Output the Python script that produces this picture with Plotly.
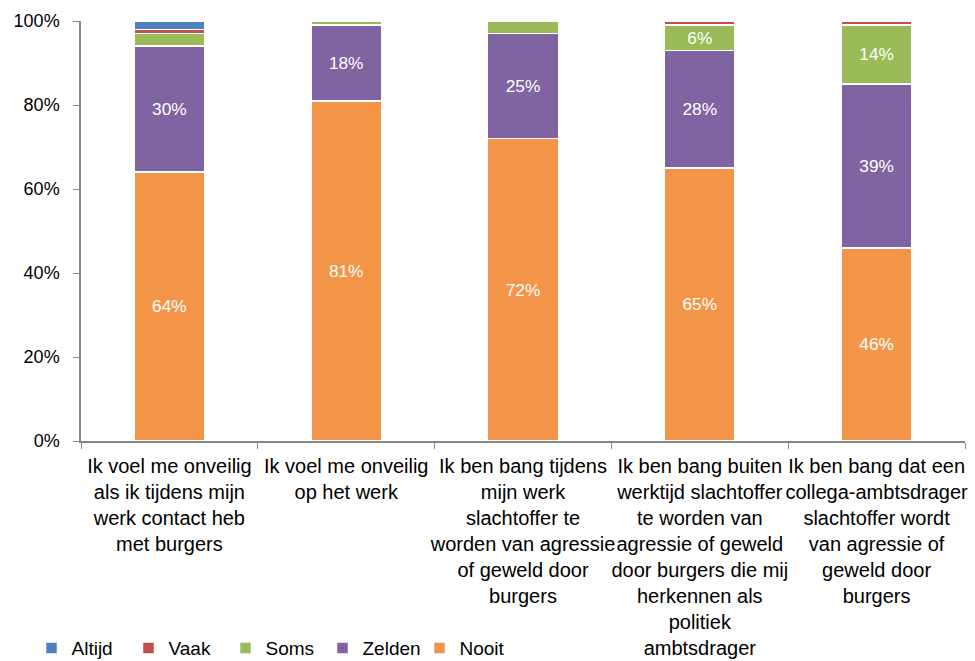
import plotly.graph_objects as go

categories = [
    "Ik voel me onveilig<br>als ik tijdens mijn<br>werk contact heb<br>met burgers",
    "Ik voel me onveilig<br>op het werk",
    "Ik ben bang tijdens<br>mijn werk<br>slachtoffer te<br>worden van agressie<br>of geweld door<br>burgers",
    "Ik ben bang buiten<br>werktijd slachtoffer<br>te worden van<br>agressie of geweld<br>door burgers die mij<br>herkennen als<br>politiek<br>ambtsdrager",
    "Ik ben bang dat een<br>collega-ambtsdrager<br>slachtoffer wordt<br>van agressie of<br>geweld door<br>burgers",
]
nooit = [64, 81, 72, 65, 46]
zelden = [30, 18, 25, 28, 39]
soms = [3, 1, 3, 6, 14]
vaak = [1, 0, 0, 1, 1]
altijd = [2, 0, 0, 0, 0]

series = [
    ("Nooit", nooit, "#F39548", True),
    ("Zelden", zelden, "#8064A2", True),
    ("Soms", soms, "#9BBB59", True),
    ("Vaak", vaak, "#C0504D", False),
    ("Altijd", altijd, "#4F81BD", False),
]

FONT = "Liberation Sans"

fig = go.Figure()
for name, vals, color, show in series:
    texts = [f"{v}%" if (show and v >= 5) else "" for v in vals]
    fig.add_trace(go.Bar(
        x=categories, y=vals, name=name,
        marker=dict(color=color, line=dict(color="white", width=1.5)),
        text=texts, textposition="inside", insidetextanchor="middle",
        textfont=dict(color="white", size=18, family=FONT),
        width=0.4, hoverinfo="skip",
    ))

fig.update_layout(
    barmode="stack",
    width=975, height=661,
    margin=dict(l=81, r=10, t=21, b=220, autoexpand=False),
    plot_bgcolor="white", paper_bgcolor="white",
    font=dict(family=FONT, size=18, color="#000000"),
    showlegend=True,
    legend=dict(orientation="h", x=-0.056, y=-0.493, xanchor="left", yanchor="middle",
                traceorder="reversed", font=dict(size=19), itemwidth=30,
                entrywidthmode="pixels", entrywidth=52),
    uniformtext=dict(minsize=10, mode="show"),
)
fig.update_yaxes(range=[0, 100], tickvals=[0, 20, 40, 60, 80, 100],
                 ticktext=["0%", "20%", "40%", "60%", "80%", "100%"],
                 showgrid=False, showline=True, linecolor="#868686", linewidth=1.5,
                 ticks="outside", ticklen=6, tickcolor="#868686", zeroline=False,
                 tickfont=dict(size=18), automargin=False, ticklabelstandoff=10)
fig.update_xaxes(showline=True, linecolor="#868686", linewidth=1.5,
                 ticks="outside", ticklen=6, tickcolor="#868686", tickson="boundaries",
                 showgrid=False, tickfont=dict(size=20), tickangle=0, automargin=False,
                 ticklabelstandoff=6)

fig.write_html("out.html", config={"displayModeBar": False},
               post_script="document.body.style.margin='0px';document.body.style.overflow='hidden';")
